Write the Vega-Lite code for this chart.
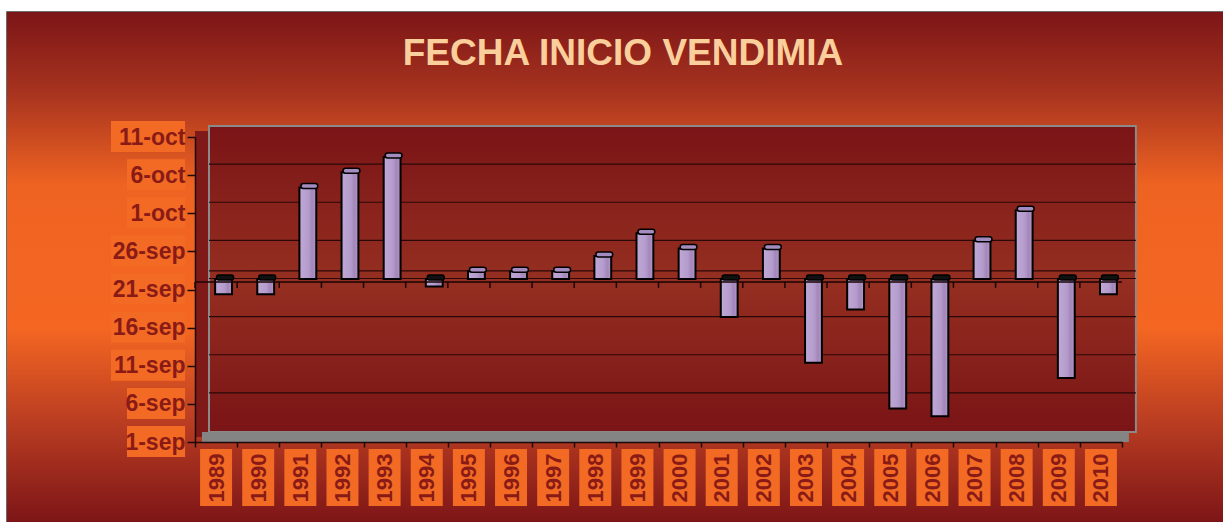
{
  "$schema": "https://vega.github.io/schema/vega-lite/v6.json",
  "width": 1216,
  "height": 510,
  "padding": {"top": 12, "left": 7, "right": 0, "bottom": 0},
  "autosize": {"type": "none"},
  "background": "white",
  "config": {"view": {"stroke": "#3c3c3c", "strokeWidth": 1.5}},
  "title": {"text": "FECHA INICIO VENDIMIA", "font": "Liberation Sans", "fontSize": 37, "fontWeight": "bold", "color": "#fbcf9b", "anchor": "middle", "frame": "group", "offset": -90, "baseline": "alphabetic", "dx": 8},
  "data": {"values": [
    {"year": "1989", "fecha": "1989-09-20"},
    {"year": "1990", "fecha": "1990-09-20"},
    {"year": "1991", "fecha": "1991-10-04"},
    {"year": "1992", "fecha": "1992-10-06"},
    {"year": "1993", "fecha": "1993-10-08"},
    {"year": "1994", "fecha": "1994-09-21"},
    {"year": "1995", "fecha": "1995-09-23"},
    {"year": "1996", "fecha": "1996-09-23"},
    {"year": "1997", "fecha": "1997-09-23"},
    {"year": "1998", "fecha": "1998-09-25"},
    {"year": "1999", "fecha": "1999-09-28"},
    {"year": "2000", "fecha": "2000-09-26"},
    {"year": "2001", "fecha": "2001-09-17"},
    {"year": "2002", "fecha": "2002-09-26"},
    {"year": "2003", "fecha": "2003-09-11"},
    {"year": "2004", "fecha": "2004-09-18"},
    {"year": "2005", "fecha": "2005-09-05"},
    {"year": "2006", "fecha": "2006-09-04"},
    {"year": "2007", "fecha": "2007-09-27"},
    {"year": "2008", "fecha": "2008-10-01"},
    {"year": "2009", "fecha": "2009-09-09"},
    {"year": "2010", "fecha": "2010-09-20"}
  ]},
  "layer": [
    {
      "data": {"values": [{}]},
      "mark": {"type": "rect", "fill": {"gradient": "linear", "x1": 0, "y1": 0, "x2": 0, "y2": 1, "stops": [
        {"offset": 0, "color": "#7c1517"},
        {"offset": 0.16, "color": "#a8341f"},
        {"offset": 0.34, "color": "#ef6322"},
        {"offset": 0.62, "color": "#f46622"},
        {"offset": 0.8, "color": "#bb3e22"},
        {"offset": 1, "color": "#7d1517"}
      ]}},
      "encoding": {}
    },
    {
      "data": {"values": [{"d": "2012-09-11"}, {"d": "2012-09-16"}, {"d": "2012-09-21"}, {"d": "2012-09-26"}, {"d": "2012-10-11"}]},
      "mark": {"type": "rect", "fill": "#f36a24", "xOffset": -84, "x2Offset": -31, "yOffset": -16, "y2Offset": 15},
      "encoding": {
        "x": {"datum": "1989", "type": "nominal", "bandPosition": 0, "title": null},
        "x2": {"datum": "1989"},
        "y": {"field": "d", "type": "temporal", "timeUnit": "utcmonthdate", "title": null},
        "y2": {"field": "d", "timeUnit": "utcmonthdate"}
      }
    },
    {
      "data": {"values": [{"d": "2012-09-01"}, {"d": "2012-09-06"}, {"d": "2012-10-01"}, {"d": "2012-10-06"}]},
      "mark": {"type": "rect", "fill": "#f36a24", "xOffset": -68, "x2Offset": -31, "yOffset": -16, "y2Offset": 15},
      "encoding": {
        "x": {"datum": "1989", "type": "nominal", "bandPosition": 0, "title": null},
        "x2": {"datum": "1989"},
        "y": {"field": "d", "type": "temporal", "timeUnit": "utcmonthdate", "title": null},
        "y2": {"field": "d", "timeUnit": "utcmonthdate"}
      }
    },
    {
      "data": {"values": [{}]},
      "mark": {"type": "rect", "fill": "#7f1a18", "xOffset": 0, "x2Offset": -7, "yOffset": -6, "y2Offset": -5},
      "encoding": {
        "x": {"datum": "1989", "type": "nominal", "bandPosition": 0, "title": null},
        "x2": {"datum": "1989"},
        "y": {"datum": {"year": 2012, "month": 10, "date": 11, "utc": true}, "type": "temporal", "title": null},
        "y2": {"datum": {"year": 2012, "month": 9, "date": 1, "utc": true}}
      }
    },
    {
      "data": {"values": [{}]},
      "mark": {"type": "rect", "stroke": "#8a8a8a", "strokeWidth": 2, "xOffset": 14, "x2Offset": 35, "yOffset": -11, "y2Offset": -10,
        "fill": {"gradient": "linear", "x1": 0, "y1": 0, "x2": 0, "y2": 1, "stops": [
          {"offset": 0, "color": "#7a1416"},
          {"offset": 0.5, "color": "#952f21"},
          {"offset": 1, "color": "#7a1416"}
        ]}},
      "encoding": {
        "x": {"datum": "1989", "type": "nominal", "bandPosition": 0, "title": null},
        "x2": {"datum": "2010"},
        "y": {"datum": {"year": 2012, "month": 10, "date": 11, "utc": true}, "type": "temporal", "title": null},
        "y2": {"datum": {"year": 2012, "month": 9, "date": 1, "utc": true}}
      }
    },
    {
      "data": {"values": [{"d": "2012-09-06"}, {"d": "2012-09-11"}, {"d": "2012-09-16"}, {"d": "2012-09-21"}, {"d": "2012-09-22"}, {"d": "2012-09-26"}, {"d": "2012-10-01"}, {"d": "2012-10-06"}]},
      "mark": {"type": "rule", "color": "#2a0808", "strokeWidth": 1.2, "xOffset": 14, "x2Offset": 35, "yOffset": -11},
      "encoding": {
        "x": {"datum": "1989", "type": "nominal", "bandPosition": 0, "title": null},
        "x2": {"datum": "2010"},
        "y": {"field": "d", "type": "temporal", "timeUnit": "utcmonthdate", "title": null}
      }
    },
    {
      "data": {"values": [{}]},
      "mark": {"type": "rect", "fill": "#848484", "xOffset": 7, "x2Offset": 28, "yOffset": -10, "y2Offset": 0},
      "encoding": {
        "x": {"datum": "1989", "type": "nominal", "bandPosition": 0, "title": null},
        "x2": {"datum": "2010"},
        "y": {"datum": {"year": 2012, "month": 9, "date": 1, "utc": true}, "type": "temporal", "title": null},
        "y2": {"datum": {"year": 2012, "month": 9, "date": 1, "utc": true}}
      }
    },
    {
      "mark": {"type": "bar", "width": {"band": 0.4}, "xOffset": 7.5, "yOffset": -3, "y2Offset": -3, "stroke": "#000000", "strokeWidth": 2,
        "fill": {"gradient": "linear", "x1": 0, "y1": 0, "x2": 1, "y2": 0, "stops": [
          {"offset": 0, "color": "#bfa9d6"},
          {"offset": 0.55, "color": "#b49bcc"},
          {"offset": 0.75, "color": "#a487ba"},
          {"offset": 1, "color": "#b096c8"}
        ]}},
      "encoding": {
        "x": {"field": "year", "type": "nominal", "title": null,
          "scale": {"type": "band", "range": [188, 1115], "paddingInner": 0, "paddingOuter": 0},
          "axis": {"orient": "bottom", "offset": -80, "tickBand": "extent", "domainColor": "#1a0a0a", "domainWidth": 1.5, "tickColor": "#1a0a0a", "tickWidth": 1.5, "tickSize": 5, "labelAngle": -90, "labelFont": "Liberation Sans", "labelFontSize": 22, "labelFontWeight": "bold", "labelColor": "#8a1a16", "labelPadding": 6, "grid": false, "zindex": 1}},
        "y": {"field": "fecha", "type": "temporal", "timeUnit": "utcmonthdate", "title": null,
          "scale": {"domain": [{"year": 2012, "month": 9, "date": 1, "utc": true}, {"year": 2012, "month": 10, "date": 11, "utc": true}], "range": [430, 125], "nice": false},
          "axis": {"orient": "left", "offset": -188, "values": [
            {"year": 2012, "month": 9, "date": 1, "utc": true},
            {"year": 2012, "month": 9, "date": 6, "utc": true},
            {"year": 2012, "month": 9, "date": 11, "utc": true},
            {"year": 2012, "month": 9, "date": 16, "utc": true},
            {"year": 2012, "month": 9, "date": 21, "utc": true},
            {"year": 2012, "month": 9, "date": 26, "utc": true},
            {"year": 2012, "month": 10, "date": 1, "utc": true},
            {"year": 2012, "month": 10, "date": 6, "utc": true},
            {"year": 2012, "month": 10, "date": 11, "utc": true}
          ], "labelExpr": "lower(utcFormat(datum.value, '%-d-%b'))", "tickSize": 8, "tickColor": "#1a0a0a", "tickWidth": 1.5, "domainColor": "#1a0a0a", "domainWidth": 1.5, "labelPadding": 2, "labelFont": "Liberation Sans", "labelFontSize": 23, "labelFontWeight": "bold", "labelColor": "#8a1a16", "grid": false, "zindex": 1}},
        "y2": {"datum": {"year": 2012, "month": 9, "date": 22, "utc": true}}
      }
    },
    {
      "transform": [{"filter": {"field": "fecha", "timeUnit": "utcmonthdate", "gt": {"year": 2012, "month": 9, "date": 22, "utc": true}}}],
      "mark": {"type": "bar", "width": {"band": 0.4}, "xOffset": 9, "yOffset": -7, "y2Offset": -2, "stroke": "#000000", "strokeWidth": 1.5, "cornerRadius": 3, "fill": "#a58cc0"},
      "encoding": {
        "x": {"field": "year", "type": "nominal", "title": null},
        "y": {"field": "fecha", "type": "temporal", "timeUnit": "utcmonthdate", "title": null},
        "y2": {"field": "fecha", "timeUnit": "utcmonthdate"}
      }
    },
    {
      "transform": [{"filter": {"field": "fecha", "timeUnit": "utcmonthdate", "lt": {"year": 2012, "month": 9, "date": 22, "utc": true}}}],
      "mark": {"type": "bar", "width": {"band": 0.4}, "xOffset": 9, "yOffset": -7, "y2Offset": -2, "stroke": "#000000", "strokeWidth": 1.5, "cornerRadius": 2, "fill": "#111111"},
      "encoding": {
        "x": {"field": "year", "type": "nominal", "title": null},
        "y": {"datum": {"year": 2012, "month": 9, "date": 22, "utc": true}, "type": "temporal", "title": null},
        "y2": {"datum": {"year": 2012, "month": 9, "date": 22, "utc": true}}
      }
    },
    {
      "data": {"values": [{}]},
      "mark": {"type": "rule", "color": "#1a0505", "strokeWidth": 1.5, "xOffset": 0, "x2Offset": 21},
      "encoding": {
        "x": {"datum": "1989", "type": "nominal", "bandPosition": 0, "title": null},
        "x2": {"datum": "2010"},
        "y": {"datum": {"year": 2012, "month": 9, "date": 22, "utc": true}, "type": "temporal", "title": null}
      }
    },
    {
      "mark": {"type": "rule", "color": "#1a0505", "strokeWidth": 1.5, "y2Offset": 6},
      "encoding": {
        "x": {"field": "year", "type": "nominal", "bandPosition": 0, "title": null},
        "y": {"datum": {"year": 2012, "month": 9, "date": 22, "utc": true}, "type": "temporal", "title": null},
        "y2": {"datum": {"year": 2012, "month": 9, "date": 22, "utc": true}}
      }
    },
    {
      "mark": {"type": "bar", "width": 32, "color": "#f36a24", "yOffset": 7, "y2Offset": 64},
      "encoding": {
        "x": {"field": "year", "type": "nominal", "title": null},
        "y": {"datum": {"year": 2012, "month": 9, "date": 1, "utc": true}, "type": "temporal", "title": null},
        "y2": {"datum": {"year": 2012, "month": 9, "date": 1, "utc": true}}
      }
    }
  ]
}
